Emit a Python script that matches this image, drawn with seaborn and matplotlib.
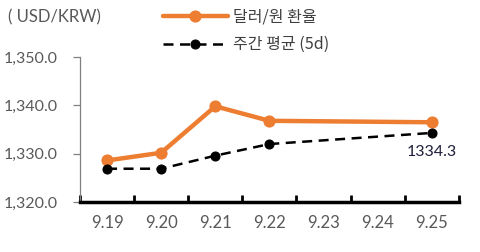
import numpy as np
import pandas as pd
import seaborn as sns
import matplotlib.pyplot as plt

# data
dates = ['9.19', '9.20', '9.21', '9.22', '9.23', '9.24', '9.25']
usdkrw = [1328.6, 1330.2, 1339.8, 1336.8, None, None, 1336.5]
avg_5d = [1326.9, 1326.9, 1329.6, 1332.0, None, None, 1334.3]
y_ticks = [1320, 1330, 1340, 1350]

sns.set_theme(style='white')
plt.rcParams['font.family'] = ['Lato', 'Noto Sans CJK KR', 'DejaVu Sans']

df = pd.DataFrame({'x': range(len(dates)), 'fx': usdkrw, 'avg': avg_5d})

fig = plt.figure(figsize=(4.81, 2.52), dpi=100)
ax = fig.add_axes([0.1663, 0.198, 0.7877, 0.576])

d1 = df.dropna(subset=['fx'])
d2 = df.dropna(subset=['avg'])
sns.lineplot(data=d1, x='x', y='fx', ax=ax, color='#ED7D31', lw=3.2,
             marker='o', ms=8, mec='#ED7D31', label='달러/원 환율')
sns.lineplot(data=d2, x='x', y='avg', ax=ax, color='black', lw=1.8,
             marker='o', ms=6.5, mec='black', label='주간 평균 (5d)',
             dashes=False, linestyle=(0, (4, 2.6)))

ax.text(d2['x'].iloc[-1], d2['avg'].iloc[-1] - 2.6, f"{d2['avg'].iloc[-1]:.1f}",
        ha='center', va='top', fontsize=11.5, color='#1F1F3A')

ax.set_xlim(-0.5, len(dates) - 0.5)
ax.set_ylim(1320, 1350)
ax.set_xticks(range(len(dates)))
ax.set_xticklabels(dates)
ax.set_xticks(np.arange(-0.5, len(dates)), minor=True)
ax.set_yticks(y_ticks)
ax.set_yticklabels([f'{v:,.1f}' for v in y_ticks])
ax.set_xlabel('')
ax.set_ylabel('')

for s in ['top', 'right']:
    ax.spines[s].set_visible(False)
ax.spines['left'].set_color('#808080')
ax.spines['left'].set_linewidth(0.9)
ax.spines['bottom'].set_color('black')
ax.spines['bottom'].set_linewidth(2.5)

ax.tick_params(axis='x', which='major', length=0, pad=9, labelsize=12, labelcolor='#595959')
ax.tick_params(axis='x', which='minor', direction='in', length=5, width=2, color='black', bottom=True)
ax.tick_params(axis='y', length=5, width=0.9, color='#808080', left=True, pad=11,
               labelsize=11.5, labelcolor='#595959')

fig.text(0.017, 0.93, '( USD/KRW)', fontsize=12, color='#595959', va='center')

leg = ax.legend(loc='upper left', bbox_to_anchor=(0.18, 1.43), frameon=False,
                fontsize=11.5, handlelength=4.1, labelspacing=0.65, handletextpad=0.3)
for t in leg.get_texts():
    t.set_color('#404040')
    t.set_family(['Noto Sans CJK KR', 'DejaVu Sans'])

fig.savefig('out.png', dpi=100)
